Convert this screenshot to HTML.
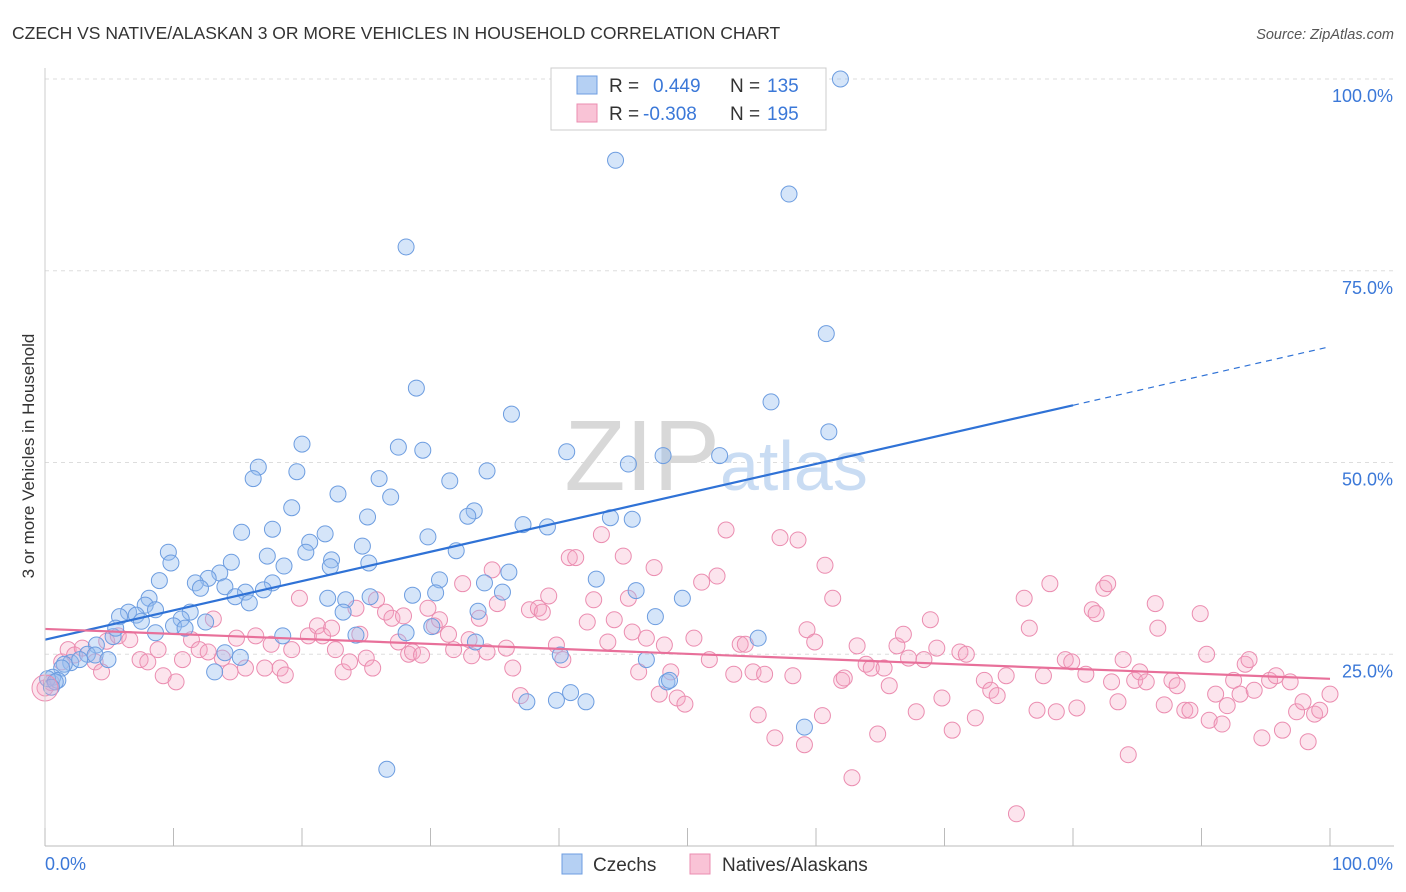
<!DOCTYPE html>
<html><head><meta charset="utf-8"><style>
body{margin:0;background:#fff;font-family:"Liberation Sans",sans-serif;}
#wrap{position:relative;width:1406px;height:892px;overflow:hidden;}
svg text{font-family:"Liberation Sans",sans-serif;}
</style></head><body>
<div id="wrap">
<svg id="chart" width="1406" height="892">
 <text x="12" y="39" font-size="17.5" fill="#333">CZECH VS NATIVE/ALASKAN 3 OR MORE VEHICLES IN HOUSEHOLD CORRELATION CHART</text>
 <text x="1394" y="39" font-size="14.5" fill="#555" font-style="italic" text-anchor="end">Source: ZipAtlas.com</text>
 <g id="grid"></g>
 <text x="720" y="490" font-size="100" fill="#d8d8d8" text-anchor="end" font-family="Liberation Serif">ZIP</text>
 <text x="720" y="490" font-size="70" fill="#c9dcf3">atlas</text>
 <g id="pts"></g>
 <g id="lines"></g>
 <g id="axes"></g>
 <text x="34" y="456" font-size="17" fill="#333" text-anchor="middle" transform="rotate(-90 34 456)">3 or more Vehicles in Household</text>
 <g>
  <rect x="551" y="68" width="275" height="62" fill="#fff" stroke="#ccc"/>
  <rect x="577" y="76" width="20" height="18" fill="#b5d0f3" stroke="#6d9de0"/>
  <rect x="577" y="104" width="20" height="18" fill="#f9c3d6" stroke="#eb8db0"/>
  <text x="609" y="92" font-size="19" fill="#333">R =</text><text x="653" y="92" font-size="19" fill="#3b78d8">0.449</text>
  <text x="730" y="92" font-size="19" fill="#333">N =</text><text x="767" y="92" font-size="19" fill="#3b78d8">135</text>
  <text x="609" y="120" font-size="19" fill="#333">R =</text><text x="643" y="120" font-size="19" fill="#3b78d8">-0.308</text>
  <text x="730" y="120" font-size="19" fill="#333">N =</text><text x="767" y="120" font-size="19" fill="#3b78d8">195</text>
 </g>
 <g>
  <rect x="562" y="854" width="20" height="20" fill="#b5d0f3" stroke="#6d9de0"/>
  <text x="593" y="871" font-size="19" fill="#333">Czechs</text>
  <rect x="690" y="854" width="20" height="20" fill="#f9c3d6" stroke="#eb8db0"/>
  <text x="722" y="871" font-size="19" fill="#333">Natives/Alaskans</text>
 </g>
</svg>
</div>
<script>
const blueX=[61.9,44.4,57.9,28.1,60.8,28.9,56.5,36.3,61.0,20.0,27.5,29.4,40.6,48.1,52.5,45.4,34.4,16.6,19.6,16.2,26.0,31.5,22.8,26.9,19.2,33.4,32.9,25.1,17.7,15.3,37.2,39.1,29.8,44.0,45.7,20.6,21.8,24.7,20.3,32.0,9.6,9.8,17.3,14.5,22.3,25.2,22.2,18.6,13.6,8.9,12.7,11.7,12.1,14.0,17.7,17.0,30.7,36.1,42.9,46.0,49.6,15.6,14.8,11.3,8.1,7.8,8.6,6.5,5.8,7.1,7.5,10.6,10.0,12.5,15.9,22.0,23.4,23.2,25.3,28.6,30.4,34.2,35.6,47.5,33.7,5.3,8.6,10.9,5.5,4.0,18.5,24.2,30.1,28.1,33.5,55.5,40.1,46.8,3.3,3.9,2.0,1.5,2.7,4.9,1.3,0.6,1.0,0.2,0.8,0.5,15.2,13.2,14.0,48.4,48.6,37.5,39.8,40.9,42.1,59.1,26.6];
const blueY=[100.0,89.4,85.0,78.1,66.8,59.7,57.9,56.3,54.0,52.4,52.0,51.6,51.4,50.9,50.9,49.8,48.9,49.4,48.8,47.9,47.9,47.6,45.9,45.5,44.1,43.7,43.0,42.9,41.3,40.9,41.9,41.6,40.3,42.8,42.6,39.6,40.7,39.1,38.3,38.5,38.3,36.9,37.8,37.0,37.3,36.9,36.4,36.5,35.6,34.6,34.9,34.3,33.6,33.8,34.3,33.4,34.7,35.7,34.8,33.3,32.3,33.1,32.5,30.5,32.3,31.4,30.8,30.5,29.9,30.1,29.3,29.6,28.7,29.2,31.7,32.3,32.1,30.5,32.5,32.7,33.0,34.3,33.1,29.9,30.6,27.3,27.8,28.4,28.4,26.2,27.4,27.5,28.6,27.8,26.6,27.1,24.9,24.3,25.0,24.9,23.9,23.7,24.3,24.3,23.2,22.0,21.6,21.8,21.4,20.7,24.6,22.7,25.2,21.4,21.6,18.8,19.0,20.0,18.8,15.5,10.0];
const pinkX=[0.0,0.5,1.3,1.8,2.3,2.9,3.9,4.4,4.8,5.7,6.6,7.4,8.0,8.8,9.2,10.2,10.7,11.4,12.0,12.7,13.1,13.8,14.4,14.9,15.6,16.4,17.1,17.6,18.3,18.7,19.2,19.8,20.5,21.2,21.6,22.3,22.6,23.2,23.7,24.2,24.5,25.0,25.5,25.8,26.5,27.0,27.5,27.9,28.3,28.6,29.3,29.8,30.3,30.7,31.4,31.8,32.5,33.0,33.2,33.8,34.4,34.8,35.2,35.9,36.4,37.0,37.7,38.4,38.7,39.2,39.8,40.3,40.8,41.3,42.2,42.7,43.3,43.8,44.3,45.0,45.4,45.7,46.2,46.8,47.4,47.8,48.2,48.7,49.2,49.8,50.5,51.1,51.7,52.3,53.0,53.6,54.1,54.5,55.1,55.5,56.0,56.8,57.2,58.2,58.6,59.1,59.3,59.9,60.5,60.7,61.3,62.0,62.2,62.8,63.2,63.9,64.3,64.8,65.3,65.7,66.3,66.8,67.2,67.8,68.4,68.9,69.4,69.8,70.6,71.2,71.7,72.4,73.1,73.6,74.1,74.8,75.6,76.2,76.6,77.2,77.7,78.2,78.7,79.4,79.9,80.3,81.0,81.5,81.8,82.4,82.7,83.0,83.5,83.9,84.3,84.8,85.2,85.7,86.4,86.6,87.1,87.7,88.1,88.7,89.1,89.9,90.4,90.6,91.1,91.6,92.0,92.5,93.0,93.4,93.7,94.1,94.7,95.3,95.8,96.3,96.9,97.4,97.9,98.3,98.8,99.2,100.0];
const pinkY=[20.6,21.3,24.0,25.6,24.9,25.8,24.0,22.7,26.7,27.4,26.9,24.3,24.0,25.6,22.2,21.4,24.3,26.9,25.6,25.3,29.6,24.5,22.7,27.1,23.2,27.4,23.2,26.3,23.2,22.3,25.6,32.3,27.4,28.7,27.4,28.4,25.6,22.7,24.0,31.0,27.6,24.5,23.2,32.1,30.5,29.7,26.6,30.0,25.0,25.3,24.9,31.0,28.7,29.5,27.6,25.6,34.2,26.9,24.8,29.7,25.3,36.0,31.6,25.8,23.2,19.6,30.8,31.0,30.5,32.6,26.2,24.3,37.6,37.6,29.2,32.1,40.6,26.6,29.5,37.8,32.3,27.9,22.7,27.1,36.3,19.8,26.2,22.7,19.3,18.5,27.1,34.4,24.3,35.2,41.2,22.4,26.3,26.3,22.7,17.1,22.4,14.1,40.2,22.2,39.9,13.2,28.2,26.6,17.0,36.6,32.3,21.6,21.9,8.9,26.1,23.7,23.2,14.6,23.2,20.9,26.1,27.6,24.5,17.5,24.3,29.5,25.8,19.3,15.1,25.3,25.0,16.7,21.6,20.3,19.6,22.2,4.2,32.3,28.4,17.7,22.2,34.2,17.5,24.3,24.0,18.0,22.4,30.8,30.3,33.6,34.2,21.4,18.8,24.3,11.9,21.6,22.7,21.4,31.6,28.4,18.4,21.6,20.9,17.7,17.7,30.3,25.0,16.4,19.8,15.9,18.3,21.6,19.8,23.7,24.3,20.3,14.1,21.6,22.2,15.1,21.4,17.5,18.8,13.6,17.2,17.7,19.8];
const trendIntercepts=[26.9,28.3];
const trendSlopes=[0.382,-0.065];
const solidEnd=[80,100];
const xTicks=[0,10,20,30,40,50,60,70,80,90,100];
const yTicks=[25,50,75,100];
const yTickLabels=["25.0%","50.0%","75.0%","100.0%"];

const NS="http://www.w3.org/2000/svg";
const X0=45,X1=1330,Y0=846,Y1=79;
const sx=v=>X0+(X1-X0)*v/100;
const sy=v=>Y0-(Y0-Y1)*v/100;
function mk(tag,attrs,parent){const e=document.createElementNS(NS,tag);for(const k in attrs)e.setAttribute(k,attrs[k]);parent.appendChild(e);return e;}
const grid=document.getElementById('grid'),axes=document.getElementById('axes'),pts=document.getElementById('pts'),lines=document.getElementById('lines');
yTicks.forEach((t,i)=>{
 const g=mk('line',{x1:X0,x2:1394,y1:sy(t),y2:sy(t),stroke:'#ddd','stroke-dasharray':'4 4'},grid);
 
 
 const l=mk('text',{x:1393,y:sy(t)+23,'font-size':18,fill:'#3b78d8','text-anchor':'end'},axes);
 l.textContent=yTickLabels[i];
 
 
});
const ax=mk('line',{x1:X0,x2:1394,y1:Y0,y2:Y0,stroke:'#bbb'},axes);


const ay=mk('line',{x1:X0,x2:X0,y1:68,y2:Y0,stroke:'#ccc'},axes);


xTicks.forEach(t=>{
 const tk=mk('line',{x1:sx(t),x2:sx(t),y1:828,y2:Y0,stroke:'#bbb'},axes);
 
 
});
const xl0=mk('text',{x:45,y:870,'font-size':18,fill:'#3b78d8'},axes);xl0.textContent='0.0%';


const xl1=mk('text',{x:1393,y:870,'font-size':18,fill:'#3b78d8','text-anchor':'end'},axes);xl1.textContent='100.0%';



pinkX.forEach((x,i)=>{
 const c=mk('circle',{cx:sx(x),cy:sy(pinkY[i]),r:8,fill:'rgba(245,165,195,0.3)',stroke:'#eb8db0','stroke-width':1},pts);
 
 
});
blueX.forEach((x,i)=>{
 const c=mk('circle',{cx:sx(x),cy:sy(blueY[i]),r:8,fill:'rgba(150,190,240,0.4)',stroke:'#6d9de0','stroke-width':1},pts);
 
 
});
const big=mk('circle',{cx:sx(pinkX[0]),cy:sy(pinkY[0]),r:13,fill:'rgba(245,165,195,0.3)',stroke:'#eb8db0'},pts);



const colors=['#2f72d6','#e8709a'];
trendIntercepts.forEach((b,i)=>{
 const m=trendSlopes[i],e=solidEnd[i];
 const l=mk('line',{x1:sx(0),y1:sy(b),x2:sx(e),y2:sy(b+m*e),stroke:colors[i],'stroke-width':2.2},lines);
 
 
 if(e<100){
  const d=mk('line',{x1:sx(e),y1:sy(b+m*e),x2:sx(100),y2:sy(b+m*100),stroke:colors[i],'stroke-width':1.2,'stroke-dasharray':'6 5'},lines);
  
  
 }
});
</script>
</body></html>
